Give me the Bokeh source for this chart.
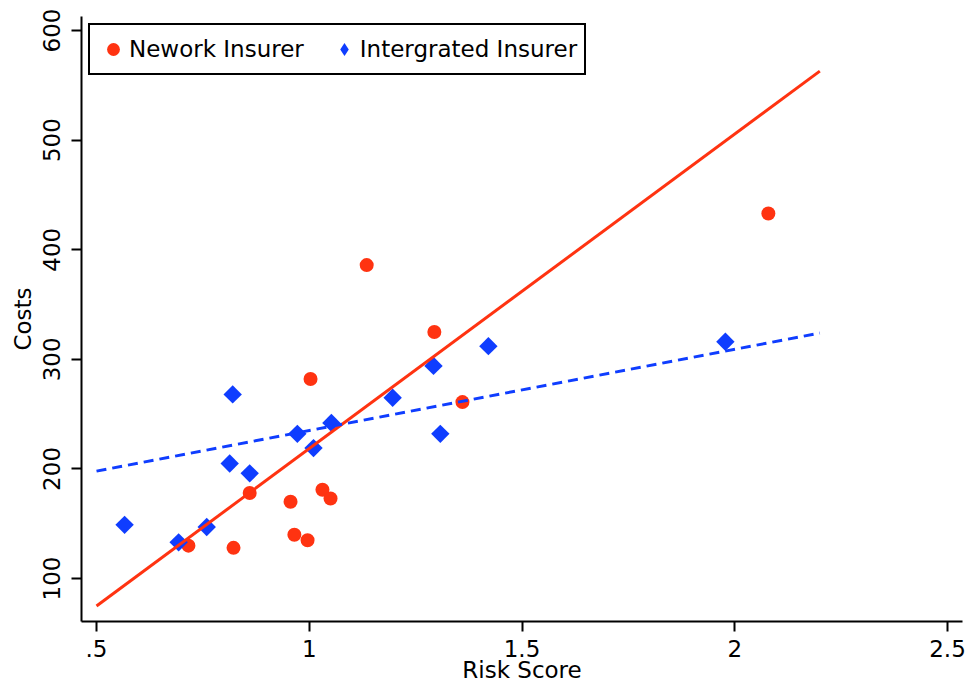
import math
from bokeh.plotting import figure
from bokeh.models import Range1d, FixedTicker, Legend, LegendItem
from bokeh.embed import file_html
from bokeh.resources import INLINE

# ---- data ----
network_risk = [2.079, 1.135, 1.294, 1.003, 1.360, 0.860, 0.956, 1.031, 1.050, 0.965, 0.996, 0.822, 0.716]
network_cost = [433, 386, 325, 282, 261, 178, 170, 181, 173, 140, 135, 128, 130]

integrated_risk = [0.566, 0.693, 0.759, 0.813, 0.820, 0.860, 0.972, 1.010, 1.052, 1.196, 1.292, 1.308, 1.421, 1.978]
integrated_cost = [149, 133, 147, 205, 268, 196, 232, 219, 242, 265, 294, 232, 312, 316]

fit_x = [0.5, 2.2]
network_fit = [75, 563]
integrated_fit = [198, 324]

x_ticks = [0.5, 1, 1.5, 2, 2.5]
x_tick_labels = [".5", "1", "1.5", "2", "2.5"]
y_ticks = [100, 200, 300, 400, 500, 600]
y_tick_labels = ["100", "200", "300", "400", "500", "600"]

RED = "#ff3311"
BLUE = "#0f3dff"
FONT = "DejaVu Sans"
FS = "23px"

p = figure(width=971, height=690, output_backend="svg", toolbar_location=None,
           x_range=Range1d(0.4647, 2.5353), y_range=Range1d(60.8, 612.8),
           min_border_left=81, min_border_right=9, min_border_top=16, min_border_bottom=69)

p.outline_line_color = None
p.xgrid.grid_line_color = None
p.ygrid.grid_line_color = None
p.background_fill_color = "white"
p.border_fill_color = "white"

r_net = p.scatter(network_risk, network_cost, marker="circle", size=14,
                  fill_color=RED, line_color=None)
# diamond-shaped glyph used for the legend key; it sits fully under the rotated squares
leg_int = p.scatter(integrated_risk, integrated_cost, marker="diamond", size=12,
                    fill_color=BLUE, line_color=None)
r_int = p.scatter(integrated_risk, integrated_cost, marker="square", size=13,
                  angle=math.pi / 4, fill_color=BLUE, line_color=None)

p.line(fit_x, network_fit, line_color=RED, line_width=3)
p.line(fit_x, integrated_fit, line_color=BLUE, line_width=3, line_dash="10 6")

for ax in (p.xaxis[0], p.yaxis[0]):
    ax.axis_line_width = 2
    ax.axis_line_color = "black"
    ax.major_tick_line_width = 2
    ax.major_tick_line_color = "black"
    ax.major_tick_out = 10
    ax.major_tick_in = 0
    ax.minor_tick_line_color = None
    ax.major_label_text_font = FONT
    ax.major_label_text_font_size = FS
    ax.major_label_text_color = "black"
    ax.axis_label_text_font = FONT
    ax.axis_label_text_font_size = FS
    ax.axis_label_text_font_style = "normal"
    ax.axis_label_text_color = "black"

p.xaxis[0].ticker = FixedTicker(ticks=x_ticks)
p.xaxis[0].major_label_overrides = dict(zip(x_ticks, x_tick_labels))
p.xaxis[0].axis_label = "Risk Score"
p.xaxis[0].major_label_standoff = 8
p.xaxis[0].axis_label_standoff = -3

p.yaxis[0].ticker = FixedTicker(ticks=y_ticks)
p.yaxis[0].major_label_overrides = dict(zip(y_ticks, y_tick_labels))
p.yaxis[0].major_label_orientation = "vertical"
p.yaxis[0].axis_label = "Costs"
p.yaxis[0].major_label_standoff = 11
p.yaxis[0].axis_label_standoff = 5

legend = Legend(items=[LegendItem(label="Nework Insurer", renderers=[r_net]),
                       LegendItem(label="Intergrated Insurer", renderers=[leg_int])],
                orientation="horizontal", location="top_left", margin=7, padding=7,
                spacing=24, glyph_width=32, glyph_height=34, label_standoff=0,
                border_line_color="black", border_line_width=2, border_line_alpha=1.0,
                label_text_font=FONT, label_text_font_size=FS,
                label_text_color="black", background_fill_alpha=1.0)
p.add_layout(legend, "center")

open("out.html", "w").write(file_html(p, INLINE))
